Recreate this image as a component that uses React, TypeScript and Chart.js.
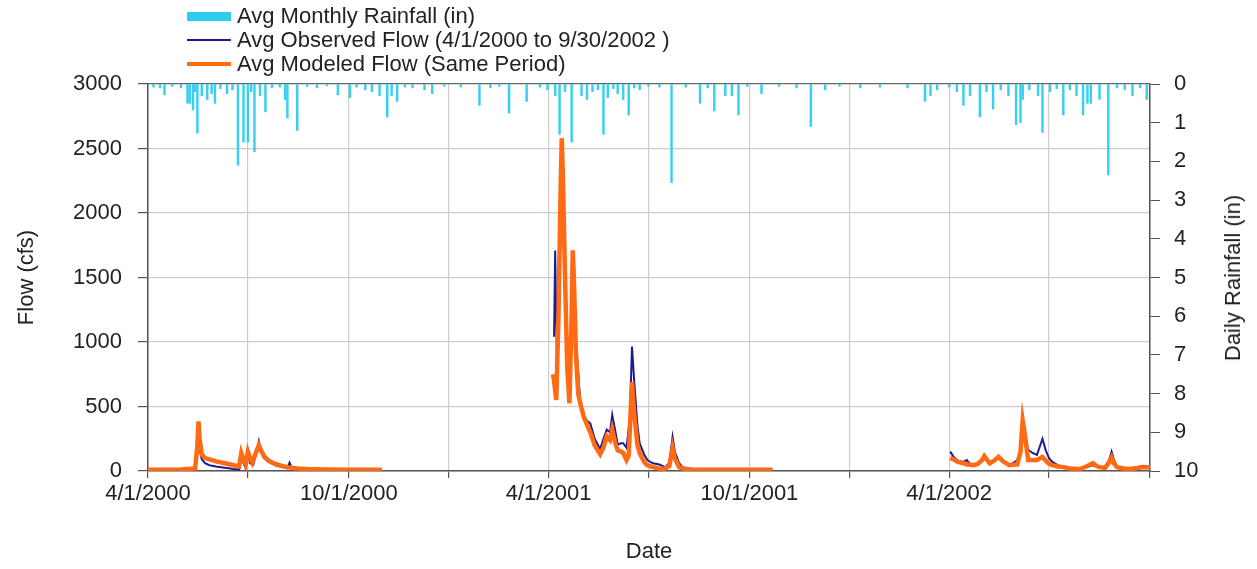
import React, { useEffect, useRef } from "react";
import { Chart, registerables } from "chart.js";
Chart.register(...registerables);

// x values are days since 4/1/2000
const tickDays = [0, 91, 183, 274, 365, 456, 548, 639, 730, 821, 913];
const tickLabels = ["4/1/2000", "", "10/1/2000", "", "4/1/2001", "", "10/1/2001", "", "4/1/2002", "", ""];
const flowTicks = [0, 500, 1000, 1500, 2000, 2500, 3000];

const rainDays = [5, 11, 15, 22, 30, 36, 38, 41, 43, 45, 49, 54, 58, 61, 66, 72, 77, 82, 87, 91, 94, 97, 102, 107, 113, 120, 125, 127, 136, 145, 154, 163, 173, 184, 190, 198, 204, 211, 218, 222, 227, 234, 241, 252, 259, 270, 285, 302, 312, 320, 329, 345, 357, 364, 371, 375, 380, 386, 395, 400, 405, 410, 415, 419, 424, 428, 433, 438, 443, 448, 456, 466, 477, 490, 503, 510, 516, 526, 532, 538, 546, 559, 575, 591, 604, 617, 630, 649, 667, 692, 708, 713, 719, 730, 737, 743, 749, 758, 764, 770, 777, 784, 791, 795, 797, 803, 811, 815, 822, 828, 834, 840, 846, 852, 856, 859, 867, 875, 883, 890, 897, 904, 910];
const rainInches = [0.08, 0.1, 0.28, 0.06, 0.1, 0.5, 0.5, 0.67, 0.2, 1.27, 0.3, 0.4, 0.25, 0.5, 0.12, 0.25, 0.15, 2.1, 1.5, 1.5, 0.2, 1.75, 0.3, 0.72, 0.1, 0.08, 0.4, 0.88, 1.2, 0.06, 0.1, 0.05, 0.28, 0.35, 0.08, 0.15, 0.2, 0.3, 0.85, 0.3, 0.45, 0.08, 0.1, 0.15, 0.25, 0.06, 0.08, 0.55, 0.1, 0.06, 0.75, 0.45, 0.08, 0.15, 0.3, 1.3, 0.2, 1.5, 0.3, 0.4, 0.2, 0.15, 1.3, 0.35, 0.12, 0.25, 0.4, 0.8, 0.1, 0.15, 0.06, 0.08, 2.55, 0.08, 0.5, 0.1, 0.7, 0.3, 0.3, 0.8, 0.06, 0.25, 0.06, 0.1, 1.1, 0.15, 0.06, 0.1, 0.08, 0.1, 0.45, 0.3, 0.15, 0.08, 0.2, 0.55, 0.3, 0.85, 0.2, 0.65, 0.15, 0.3, 1.05, 1.0, 0.4, 0.15, 0.3, 1.25, 0.2, 0.12, 0.8, 0.15, 0.3, 0.8, 0.5, 0.5, 0.4, 2.35, 0.1, 0.15, 0.3, 0.1, 0.4];

const obs2000Days = [0, 15, 30, 43, 45, 46, 47, 49, 52, 56, 62, 70, 78, 83, 85, 87, 89, 91, 93, 96, 100, 101, 103, 106, 110, 116, 122, 127, 129, 131, 136, 145, 160, 180, 200, 213];
const obs2000Flow = [8, 8, 9, 12, 150, 300, 180, 90, 60, 45, 35, 25, 15, 10, 120, 60, 20, 130, 60, 50, 190, 230, 150, 100, 70, 45, 30, 20, 65, 25, 18, 12, 10, 8, 8, 8];
const mod2000Days = [0, 15, 30, 43, 45, 46, 47, 49, 52, 56, 62, 70, 78, 83, 85, 87, 89, 91, 93, 95, 100, 101, 103, 106, 110, 116, 122, 127, 131, 136, 145, 160, 180, 200, 213];
const mod2000Flow = [10, 10, 12, 20, 200, 385, 250, 130, 100, 90, 75, 60, 45, 35, 140, 90, 50, 150, 100, 65, 180, 200, 160, 110, 80, 55, 40, 30, 25, 20, 15, 12, 10, 10, 9];

const obs2001Days = [370, 371, 373, 377, 380, 384, 387, 390, 394, 397, 400, 403, 407, 412, 415, 418, 421, 423, 426, 428, 431, 433, 436, 439, 441, 443, 446, 448, 452, 455, 460, 466, 471, 475, 478, 480, 484, 487, 493, 500, 520, 545, 569];
const obs2001Flow = [1040, 1710, 650, 2560, 1500, 530, 1700, 1000, 520, 430, 390, 370, 250, 170, 250, 320, 300, 435, 300, 205, 215, 215, 180, 400, 965, 700, 350, 215, 130, 85, 60, 50, 30, 60, 265, 150, 60, 30, 20, 12, 10, 10, 10];
const mod2001Days = [369, 370, 372, 374, 376, 377, 378, 380, 382, 384, 386, 387, 388, 390, 392, 394, 397, 400, 403, 407, 412, 415, 418, 421, 423, 426, 428, 431, 433, 436, 438, 440, 441, 443, 446, 448, 452, 455, 460, 466, 471, 475, 478, 480, 484, 487, 493, 500, 520, 545, 569];
const mod2001Flow = [750, 700, 550, 1200, 2200, 2580, 2300, 1500, 800, 525, 1200, 1710, 1500, 900, 600, 520, 420, 360, 300, 200, 130, 180, 270, 240, 320, 210, 160, 150, 140, 85, 120, 500, 690, 450, 200, 140, 70, 45, 30, 20, 18, 40, 180, 100, 30, 20, 12, 10, 10, 10, 10];

const obs2002Days = [731, 734, 738, 743, 746, 749, 752, 756, 760, 762, 765, 767, 771, 775, 779, 785, 790, 792, 795, 797, 799, 802, 806, 810, 813, 815, 818, 821, 824, 829, 834, 840, 849, 855, 861, 864, 867, 872, 876, 878, 880, 883, 889, 895, 900, 907, 913];
const obs2002Flow = [150, 110, 80, 70, 85, 55, 45, 55, 90, 115, 80, 60, 80, 110, 75, 45, 70, 85, 150, 300, 230, 165, 140, 125, 200, 250, 160, 100, 70, 45, 30, 20, 15, 30, 45, 35, 30, 30, 90, 150, 90, 30, 20, 15, 25, 40, 35];
const mod2002Days = [731, 734, 738, 743, 746, 749, 752, 756, 760, 762, 765, 767, 771, 775, 779, 785, 790, 792, 795, 797, 799, 802, 806, 810, 813, 815, 818, 821, 824, 829, 834, 840, 849, 855, 861, 864, 867, 872, 876, 878, 880, 883, 889, 895, 900, 907, 913];
const mod2002Flow = [100, 90, 70, 60, 50, 50, 45, 55, 85, 115, 80, 60, 80, 110, 75, 45, 50, 50, 150, 390, 280, 85, 85, 85, 100, 110, 80, 55, 45, 35, 30, 20, 15, 35, 60, 40, 30, 25, 70, 105, 60, 30, 20, 15, 22, 30, 30];

const FONT = "'Liberation Sans', Arial, sans-serif";
const TEXT = "#222222";
const FS = 22;

function segs(parts: [number[], number[]][]) {
  const out: { x: number; y: number | null }[] = [];
  parts.forEach(([d, v], i) => {
    if (i > 0) out.push({ x: (d[0] + out[out.length - 1].x) / 2, y: null });
    d.forEach((x, j) => out.push({ x, y: v[j] }));
  });
  return out;
}

export default function App() {
  const ref = useRef<HTMLCanvasElement | null>(null);
  useEffect(() => {
    if (!ref.current) return;
    const chart = new Chart(ref.current, {
      type: "bar",
      data: {
        datasets: [
          {
            type: "line",
            label: "Avg Modeled Flow (Same Period)",
            data: segs([[mod2000Days, mod2000Flow], [mod2001Days, mod2001Flow], [mod2002Days, mod2002Flow]]),
            borderColor: "#ff6a13",
            borderWidth: 4.5,
            pointRadius: 0,
            tension: 0,
            spanGaps: false,
            xAxisID: "x",
            yAxisID: "y",
            order: 0,
          } as any,
          {
            type: "line",
            label: "Avg Observed Flow (4/1/2000 to 9/30/2002 )",
            data: segs([[obs2000Days, obs2000Flow], [obs2001Days, obs2001Flow], [obs2002Days, obs2002Flow]]),
            borderColor: "#1c1c8e",
            borderWidth: 2,
            pointRadius: 0,
            tension: 0,
            spanGaps: false,
            xAxisID: "x",
            yAxisID: "y",
            order: 1,
          } as any,
          {
            type: "bar",
            label: "Avg Monthly Rainfall (in)",
            data: rainDays.map((x, i) => ({ x, y: rainInches[i] })),
            backgroundColor: "#38d0f0",
            barThickness: 1.8,
            xAxisID: "x",
            yAxisID: "y2",
            order: 2,
          } as any,
        ],
      },
      options: {
        responsive: false,
        animation: false,
        events: [],
        layout: { padding: { top: 84, left: 0, right: 0, bottom: 0 } },
        plugins: { legend: { display: false }, tooltip: { enabled: false } },
        scales: {
          x: {
            type: "linear",
            position: "bottom",
            min: 0,
            max: 913,
            offset: false,
            afterBuildTicks: (s: any) => {
              s.ticks = tickDays.map((v) => ({ value: v }));
            },
            afterFit: (s: any) => {
              s.height = 98;
            },
            ticks: {
              autoSkip: false,
              maxRotation: 0,
              padding: 3,
              color: TEXT,
              font: { family: FONT, size: FS },
              callback: (v: any) => {
                const i = tickDays.indexOf(Number(v));
                return i >= 0 ? tickLabels[i] : "";
              },
            },
            grid: { offset: false, color: "#cccccc", lineWidth: 1.2, tickColor: "#555", tickLength: 7 },
            border: { color: "#555", width: 1.5 },
            title: { display: true, text: "Date", color: TEXT, font: { family: FONT, size: FS }, padding: { top: 0, bottom: 4 } },
          },
          y: {
            type: "linear",
            position: "left",
            min: 0,
            max: 3000,
            afterBuildTicks: (s: any) => {
              s.ticks = flowTicks.map((v) => ({ value: v }));
            },
            afterFit: (s: any) => {
              s.width = 148;
            },
            ticks: { padding: 16, color: TEXT, font: { family: FONT, size: FS }, callback: (v: any) => String(v) },
            grid: {
              color: (c: any) => (c.tick && c.tick.value === 3000 ? "#666" : "#cccccc"),
              lineWidth: 1.2,
              tickColor: "#555",
              tickLength: 10,
            },
            border: { color: "#555", width: 1.5 },
            title: { display: true, text: "Flow (cfs)", color: TEXT, font: { family: FONT, size: FS }, padding: { top: 14, bottom: 0 } },
          },
          y2: {
            type: "linear",
            position: "right",
            reverse: true,
            min: 0,
            max: 10,
            afterFit: (s: any) => {
              s.width = 107;
            },
            ticks: { stepSize: 1, padding: 14, color: TEXT, font: { family: FONT, size: FS } },
            grid: { drawOnChartArea: false, tickColor: "#555", tickLength: 10 },
            border: { color: "#555", width: 1.5 },
          },
        },
      } as any,
    });
    return () => chart.destroy();
  }, []);

  const legendRow = (top: number, swatch: React.ReactNode, text: string) => (
    <div style={{ position: "absolute", left: 187, top, height: 24, display: "flex", alignItems: "center", whiteSpace: "nowrap" }}>
      <div style={{ width: 44, display: "flex", alignItems: "center" }}>{swatch}</div>
      <span style={{ marginLeft: 6, fontFamily: FONT, fontSize: FS, color: TEXT, lineHeight: "24px" }}>{text}</span>
    </div>
  );

  return (
    <div style={{ position: "fixed", left: 0, top: 0, width: 1257, height: 569, background: "#fff" }}>
      <canvas ref={ref} width={1257} height={569} style={{ position: "absolute", left: 0, top: 0 }} />
      {legendRow(4, <div style={{ width: 44, height: 9, background: "#2ccdef" }} />, "Avg Monthly Rainfall (in)")}
      {legendRow(28, <div style={{ width: 44, height: 2, background: "#1c1c8e" }} />, "Avg Observed Flow (4/1/2000 to 9/30/2002 )")}
      {legendRow(52, <div style={{ width: 44, height: 4, background: "#ff6a13" }} />, "Avg Modeled Flow (Same Period)")}
      <div
        style={{
          position: "absolute",
          left: 1233,
          top: 278,
          transform: "translate(-50%, -50%) rotate(-90deg)",
          fontFamily: FONT,
          fontSize: FS,
          color: TEXT,
          whiteSpace: "nowrap",
        }}
      >
        Daily Rainfall (in)
      </div>
    </div>
  );
}
